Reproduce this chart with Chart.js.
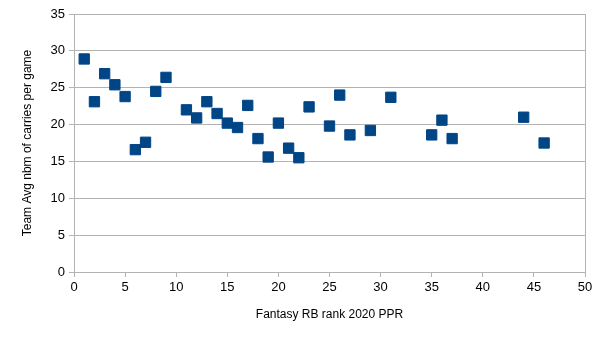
<!DOCTYPE html>
<html>
<head>
<meta charset="utf-8">
<script src="https://cdn.jsdelivr.net/npm/chart.js@4/dist/chart.umd.min.js"></script>
<style>
  html, body { margin: 0; padding: 0; background: #fff; }
  #wrap { width: 604px; height: 340px; }
</style>
</head>
<body>
<div id="wrap"><canvas id="chart"></canvas></div>
<script>
// Fantasy RB rank (x) vs team average carries per game (y)
const ranks = [1, 2, 3, 4, 5, 6, 7, 8, 9, 11, 12, 13, 14, 15, 16, 17, 18, 19, 20, 21, 22, 23, 25, 26, 27, 29, 31, 35, 36, 37, 44, 46];
const carries = [28.9, 23.1, 26.9, 25.4, 23.8, 16.6, 17.6, 24.5, 26.4, 22.0, 20.9, 23.1, 21.5, 20.2, 19.6, 22.6, 18.1, 15.6, 20.2, 16.8, 15.5, 22.4, 19.8, 24.0, 18.6, 19.2, 23.7, 18.6, 20.6, 18.1, 21.0, 17.5];

const xTitle = 'Fantasy RB rank 2020 PPR';
const yTitle = 'Team Avg nbm of carries per game';

const points = ranks.map((r, i) => ({ x: r, y: carries[i] }));

Chart.defaults.font.family = '"Liberation Sans", Arial, sans-serif';
Chart.defaults.font.size = 13;
Chart.defaults.color = '#000';

new Chart(document.getElementById('chart'), {
    type: 'scatter',
    data: {
        datasets: [{
            data: points,
            pointStyle: 'rect',
            pointRadius: 7.3,
            pointHoverRadius: 7.3,
            backgroundColor: '#004586',
            borderColor: '#004586',
            borderWidth: 1
        }]
    },
    options: {
        responsive: true,
        maintainAspectRatio: false,
        animation: false,
        layout: { padding: { top: 14, right: 19, bottom: 18, left: 0 } },
        plugins: {
            legend: { display: false },
            tooltip: { enabled: false }
        },
        scales: {
            x: {
                type: 'linear',
                min: 0,
                max: 50,
                ticks: { stepSize: 5, padding: 3, maxRotation: 0 },
                grid: {
                    color: ctx => ctx.tick && ctx.tick.value === 50 ? '#b3b3b3' : 'rgba(0,0,0,0)',
                    tickColor: '#b3b3b3',
                    tickLength: 5
                },
                border: { color: '#b3b3b3' },
                title: { display: true, text: xTitle, font: { size: 12 }, padding: { top: 0, bottom: 0 } },
                afterFit: scale => { scale.height = 50; }
            },
            y: {
                min: 0,
                max: 35,
                ticks: { stepSize: 5, padding: 4 },
                grid: { color: '#b3b3b3', tickColor: '#b3b3b3', tickLength: 5 },
                border: { color: '#b3b3b3' },
                title: { display: true, text: yTitle, font: { size: 12 }, padding: { top: 20, bottom: 0 } },
                afterFit: scale => { scale.width = 74; }
            }
        }
    }
});
</script>
</body>
</html>
